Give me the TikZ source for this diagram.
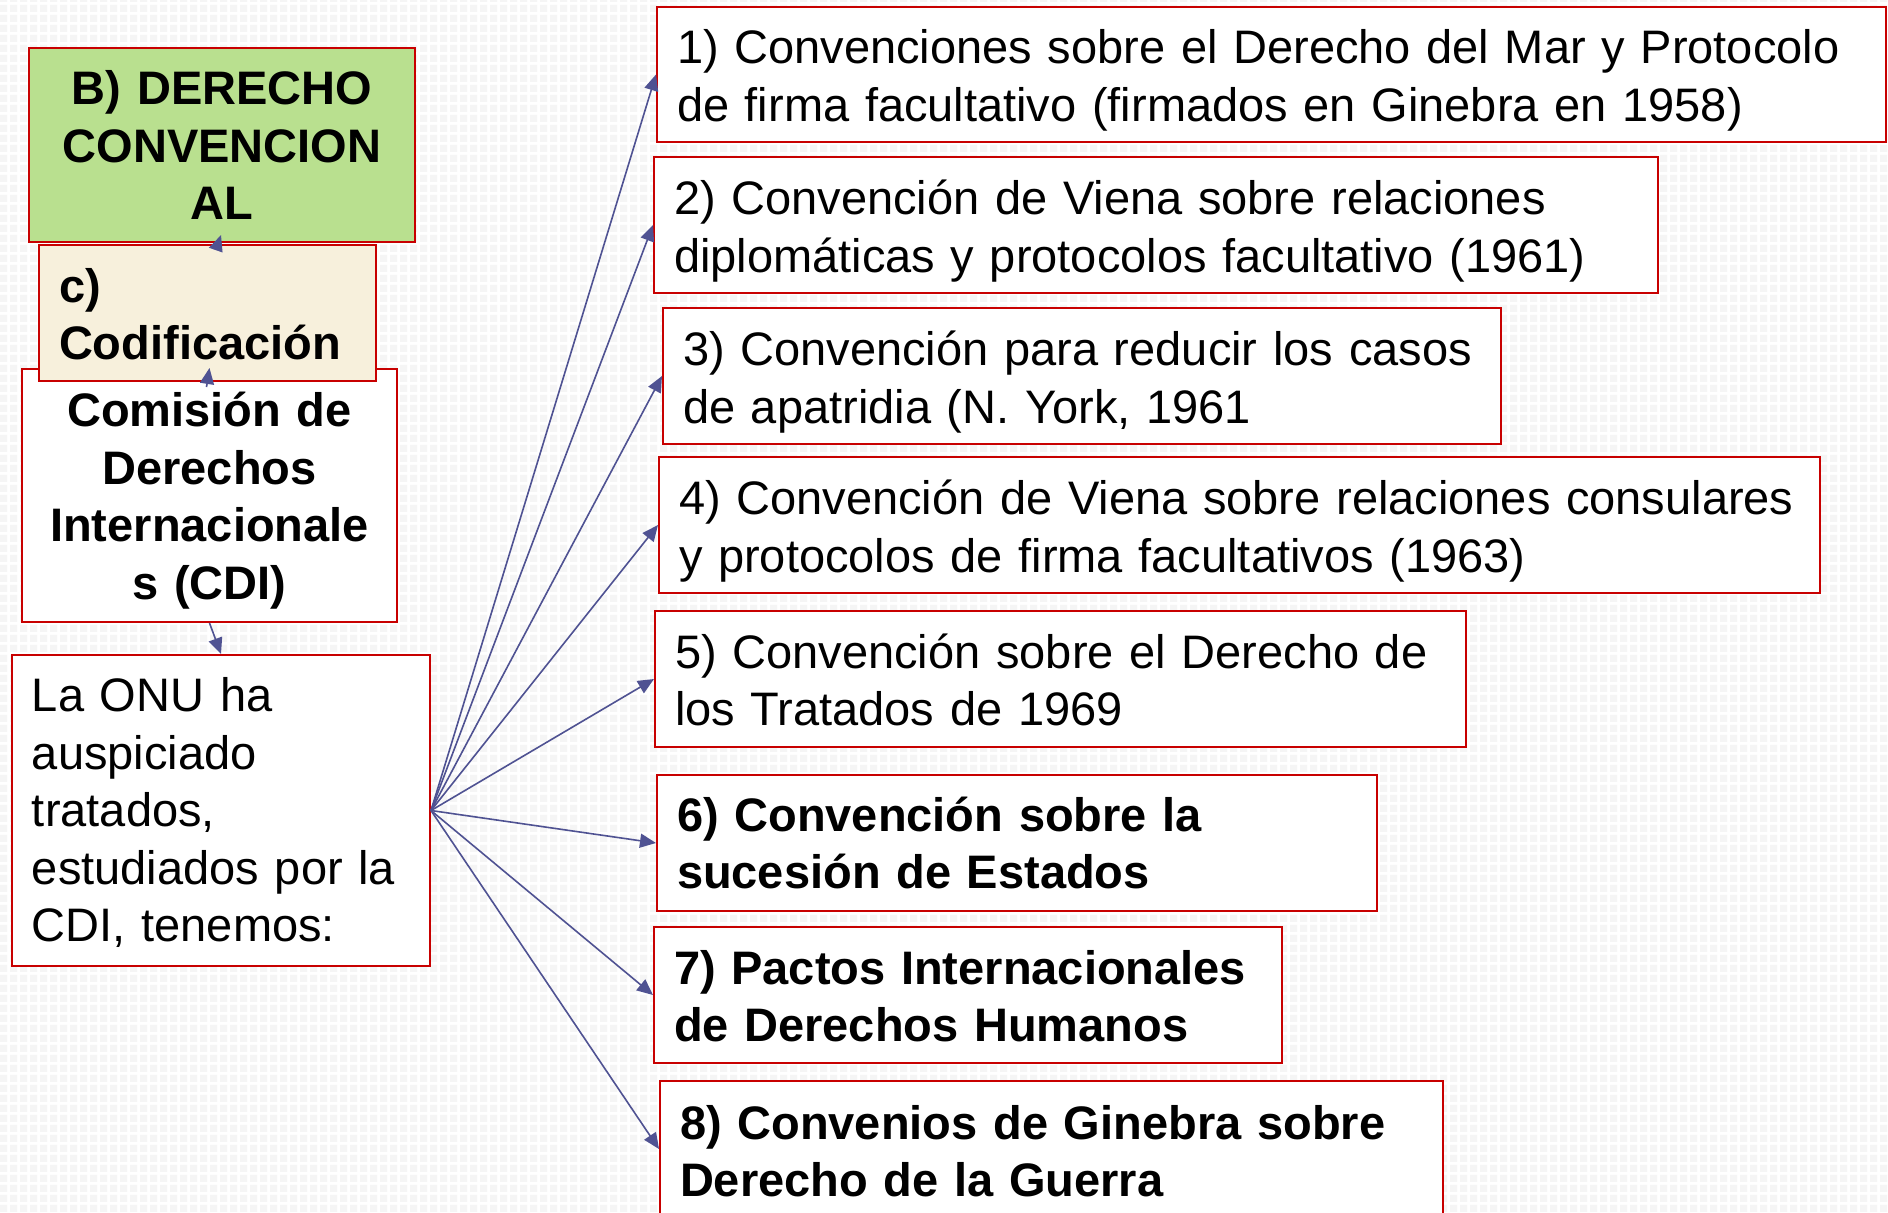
\documentclass[tikz,border=0pt]{standalone}
\usepackage{fontspec}
\setmainfont{Liberation Sans}
\usetikzlibrary{arrows.meta,calc,patterns}
\definecolor{boxred}{HTML}{C80000}
\definecolor{boxgreen}{HTML}{B9E08F}
\definecolor{boxcream}{HTML}{F7F0DC}
\definecolor{arrblue}{HTML}{4F5292}
\pgfdeclarepatternformonly{bgdots}{\pgfpointorigin}{\pgfpoint{5pt}{5pt}}{\pgfpoint{5pt}{5pt}}{%
  \pgfpathrectangle{\pgfpoint{0.6pt}{0.6pt}}{\pgfpoint{3.8pt}{3.8pt}}\pgfusepath{fill}}
\tikzset{
  box/.style={draw=boxred, line width=1pt, fill=white, inner sep=0pt},
  txt/.style={inner sep=0pt, align=left, font=\fontsize{23.5pt}{28.75pt}\selectfont},
  btxt/.style={txt, font=\fontsize{23.5pt}{28.75pt}\selectfont\bfseries},
  ctxt/.style={btxt, align=center},
  arr/.style={draw=arrblue, line width=0.8pt, -{Triangle[length=8pt,width=7pt]}}
}
\begin{document}
\begin{tikzpicture}[x=0.5pt,y=-0.5pt]
\useasboundingbox (0,0) rectangle (1888,1212);
\clip (0,0) rectangle (1888,1212);
\fill[white] (0,0) rectangle (1888,1212);
\fill[pattern=bgdots, pattern color=black!4] (0,0) rectangle (1888,1212);

% left column
\node[box, fill=boxgreen, minimum width=193pt, minimum height=97pt] (bder) at (222,145) {};
\node[ctxt, text width=185pt] (bdert) at ($(bder.center)+(0,0)$) {B) DERECHO\\CONVENCION\\AL};
\node[box, minimum width=187.5pt, minimum height=126.5pt] (cdi) at (209.5,495.5) {};
\node[ctxt, text width=180pt] (cdit) at ($(cdi.center)+(0,5)$) {Comisión de\\Derechos\\Internacionale\\s (CDI)};
\node[box, fill=boxcream, minimum width=168.5pt, minimum height=68pt] (cod) at (207.5,313) {};
\node[btxt, text width=148.5pt] (codt) at ($(cod.center)+(0,1)$) {c)\\Codificación};
\node[box, minimum width=209pt, minimum height=155.5pt] (onu) at (221,810.5) {};
\node[txt, text width=189pt] (onut) at ($(onu.center)+(0,2)$) {La ONU ha\\auspiciado\\tratados,\\estudiados por la\\CDI, tenemos:};

% right column
\node[box, minimum width=614.5pt, minimum height=67.5pt] (t1) at (1271.5,74.5) {};
\node[txt, text width=594.5pt] (t1t) at ($(t1.center)+(0,6)$)
  {1) Convenciones sobre el Derecho del Mar y Protocolo\\de firma facultativo (firmados en Ginebra en 1958)};
\node[box, minimum width=502pt, minimum height=68pt] (t2) at (1156,225) {};
\node[txt, text width=482pt] (t2t) at ($(t2.center)+(0,6)$)
  {2) Convención de Viena sobre relaciones\\diplomáticas y protocolos facultativo (1961)};
\node[box, minimum width=419pt, minimum height=68pt] (t3) at (1082,376) {};
\node[txt, text width=399pt] (t3t) at ($(t3.center)+(0,6)$)
  {3) Convención para reducir los casos\\de apatridia (N. York, 1961};
\node[box, minimum width=580.5pt, minimum height=68pt] (t4) at (1239.5,525) {};
\node[txt, text width=560.5pt] (t4t) at ($(t4.center)+(0,6)$)
  {4) Convención de Viena sobre relaciones consulares\\y protocolos de firma facultativos (1963)};
\node[box, minimum width=405.5pt, minimum height=68pt] (t5) at (1060.5,679) {};
\node[txt, text width=385.5pt] (t5t) at ($(t5.center)+(0,1)$)
  {5) Convención sobre el Derecho de\\los Tratados de 1969};
\node[box, minimum width=360pt, minimum height=68pt] (t6) at (1017,843) {};
\node[btxt, text width=340pt] (t6t) at ($(t6.center)+(0,0)$)
  {6) Convención sobre la\\sucesión de Estados};
\node[box, minimum width=314pt, minimum height=68pt] (t7) at (968,995) {};
\node[btxt, text width=294pt] (t7t) at ($(t7.center)+(0,1)$)
  {7) Pactos Internacionales\\de Derechos Humanos};
\node[box, minimum width=391.5pt, minimum height=68pt] (t8) at (1051.5,1149) {};
\node[btxt, text width=371.5pt] (t8t) at ($(t8.center)+(0,2)$)
  {8) Convenios de Ginebra sobre\\Derecho de la Guerra};

% connectors
\draw[arr] ($(cod.north)+(9,4)$) -- ($(bder.south)+(-1,-8)$);
\draw[arr] ($(cod.south)+(-1,5)$) -- (cdi.north);
\draw[arr] (cdi.south) -- (onu.north);
\foreach \t in {t1,t2,t3,t4,t5,t6,t7,t8}
  \draw[arr] (onu.east) -- (\t.west);
\end{tikzpicture}
\end{document}
